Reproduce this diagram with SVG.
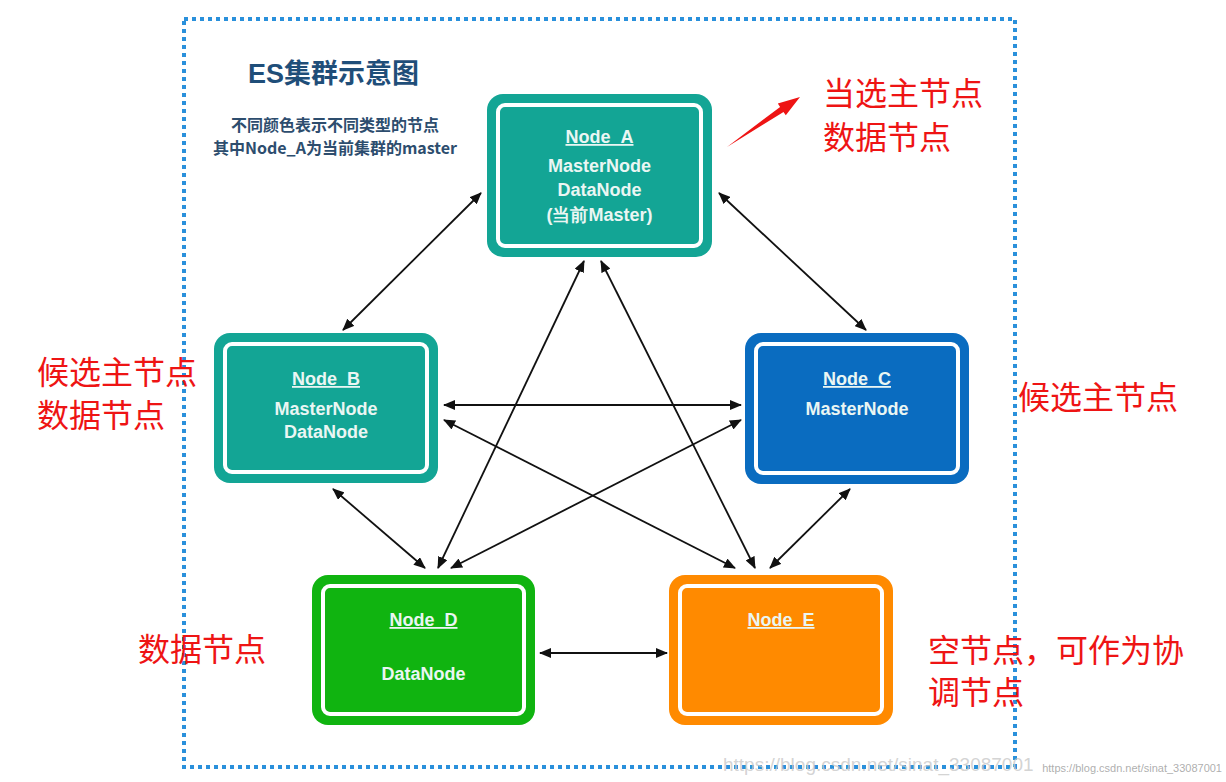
<svg xmlns="http://www.w3.org/2000/svg" width="1226" height="782" viewBox="0 0 1226 782">
<defs>
<marker id="ah" viewBox="0 0 12 10" refX="11" refY="5" markerWidth="12" markerHeight="10" markerUnits="userSpaceOnUse" orient="auto-start-reverse">
<path d="M0,0 L12,5 L0,10 Z" fill="#111"/>
</marker>
<style>
.nt{font-family:"Liberation Sans",Arial,sans-serif;font-size:18px;font-weight:bold;fill:#eaf6f3;text-anchor:middle}
.nh{text-decoration:underline}
.ring{fill:none;stroke:#ffffff;stroke-width:4}
.red{font-family:"Noto Sans CJK SC",sans-serif;font-size:32px;fill:#ee1414}
.cn{stroke:#111;stroke-width:1.8;fill:none;marker-start:url(#ah);marker-end:url(#ah)}
</style>
</defs>
<rect width="1226" height="782" fill="#ffffff"/>
<rect x="184" y="19" width="831" height="748" fill="none" stroke="#2a90db" stroke-width="4" stroke-dasharray="4 4"/>
<text x="248" y="83" font-family="Liberation Sans,'Noto Sans CJK SC',sans-serif" font-size="27" font-weight="bold" fill="#1f4e79">ES集群示意图</text>
<text x="335" y="131" font-family="'Noto Sans CJK SC',sans-serif" font-size="16" font-weight="bold" fill="#2d4d6e" text-anchor="middle">不同颜色表示不同类型的节点</text>
<text x="335" y="154" font-family="'Noto Sans CJK SC',sans-serif" font-size="16" font-weight="bold" fill="#2d4d6e" text-anchor="middle">其中Node_A为当前集群的master</text>

<g id="connectors">
<line class="cn" x1="481" y1="193" x2="343" y2="330"/>
<line class="cn" x1="719" y1="193" x2="866" y2="330"/>
<line class="cn" x1="444" y1="405" x2="741" y2="405"/>
<line class="cn" x1="444" y1="420" x2="735" y2="568"/>
<line class="cn" x1="741" y1="420" x2="451" y2="568"/>
<line class="cn" x1="584" y1="261" x2="438" y2="568"/>
<line class="cn" x1="601" y1="261" x2="755" y2="568"/>
<line class="cn" x1="333" y1="489" x2="425" y2="568"/>
<line class="cn" x1="850" y1="489" x2="770" y2="568"/>
<line class="cn" x1="540" y1="653" x2="667" y2="653"/>
</g>

<g id="node_a">
<rect x="487" y="94" width="225" height="163" rx="16" fill="#13a595"/>
<rect x="498" y="105" width="203" height="141" rx="7" class="ring"/>
<text class="nt nh" x="599.5" y="143">Node_A</text>
<text class="nt" x="599.5" y="172">MasterNode</text>
<text class="nt" x="599.5" y="196">DataNode</text>
<text class="nt" x="599.5" y="221" font-family="'Liberation Sans','Noto Sans CJK SC',sans-serif">(当前Master)</text>
</g>
<g id="node_b">
<rect x="214" y="333" width="224" height="150" rx="16" fill="#13a595"/>
<rect x="225" y="344" width="202" height="128" rx="7" class="ring"/>
<text class="nt nh" x="326" y="385">Node_B</text>
<text class="nt" x="326" y="415">MasterNode</text>
<text class="nt" x="326" y="438">DataNode</text>
</g>
<g id="node_c">
<rect x="745" y="333" width="224" height="151" rx="16" fill="#0a6cc0"/>
<rect x="756" y="344" width="202" height="129" rx="7" class="ring"/>
<text class="nt nh" x="857" y="385">Node_C</text>
<text class="nt" x="857" y="415">MasterNode</text>
</g>
<g id="node_d">
<rect x="312" y="575" width="223" height="150" rx="16" fill="#10b410"/>
<rect x="323" y="586" width="201" height="128" rx="7" class="ring"/>
<text class="nt nh" x="423.5" y="626">Node_D</text>
<text class="nt" x="423.5" y="680">DataNode</text>
</g>
<g id="node_e">
<rect x="669" y="575" width="224" height="150" rx="16" fill="#ff8a00"/>
<rect x="680" y="586" width="202" height="128" rx="7" class="ring"/>
<text class="nt nh" x="781" y="626">Node_E</text>
</g>

<g id="annotations">
<polygon points="727,147 783.5,111.9 785.8,115.2 800,97 777.8,103.6 780.1,106.9" fill="#ee1414"/>
<text class="red" x="823" y="105">当选主节点</text>
<text class="red" x="823" y="149">数据节点</text>
<text class="red" x="37" y="384">候选主节点</text>
<text class="red" x="37" y="427">数据节点</text>
<text class="red" x="1018" y="409">候选主节点</text>
<text class="red" x="138" y="661">数据节点</text>
<text class="red" x="928" y="662">空节点，可作为协</text>
<text class="red" x="928" y="704">调节点</text>
</g>
<text x="723" y="771" font-family="'Liberation Sans',sans-serif" font-size="19" fill="#c8c8c8" fill-opacity="0.8">https://blog.csdn.net/sinat_33087001</text>
<text x="1222" y="772" font-family="'Liberation Sans',sans-serif" font-size="11" fill="#999999" fill-opacity="0.8" text-anchor="end">https://blog.csdn.net/sinat_33087001</text>
</svg>
